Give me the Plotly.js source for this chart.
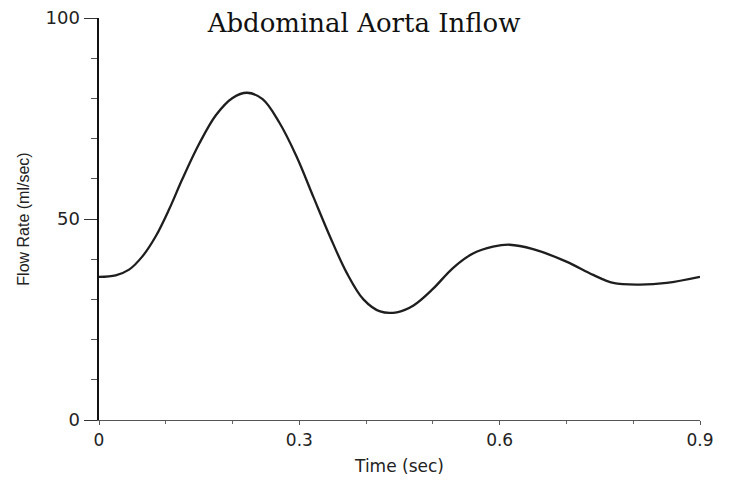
<!DOCTYPE html>
<html>
<head>
<meta charset="utf-8">
<script src="https://cdn.plot.ly/plotly-3.0.1.min.js"></script>
<style>html,body{margin:0;padding:0;background:#fff;}</style>
</head>
<body>
<div id="chart" style="width:737px;height:483px;"></div>
<script>
// Time (sec) and flow rate (ml/sec)
const time = [0, 0.025, 0.045, 0.065, 0.085, 0.105, 0.125, 0.15, 0.175, 0.2, 0.222, 0.245, 0.27, 0.296, 0.321, 0.346, 0.371, 0.396, 0.421, 0.446, 0.471, 0.5, 0.53, 0.56, 0.59, 0.615, 0.65, 0.7, 0.74, 0.77, 0.81, 0.85, 0.9];
const flow = [35.6, 36.0, 37.4, 40.7, 45.7, 52.4, 60.0, 68.7, 75.8, 80.1, 81.4, 79.8, 74.0, 65.5, 55.5, 45.6, 36.6, 30.0, 27.0, 26.8, 28.5, 32.6, 37.8, 41.4, 43.1, 43.6, 42.5, 39.4, 36.1, 34.1, 33.7, 34.1, 35.6];
const xTickVals = [0, 0.3, 0.6, 0.9];
const xTickText = ['0', '0.3', '0.6', '0.9'];
const yTickVals = [0, 50, 100];
const yTickText = ['0', '50', '100'];

const trace = {
  x: time, y: flow, type: 'scatter', mode: 'lines',
  line: {color: '#1e1e1e', width: 2.3, shape: 'spline', smoothing: 1},
  hoverinfo: 'skip'
};

const layout = {
  width: 737, height: 483,
  margin: {l: 99, r: 37, t: 18, b: 63},
  paper_bgcolor: '#fff', plot_bgcolor: '#fff',
  showlegend: false,
  title: {
    text: 'Abdominal Aorta Inflow',
    font: {family: 'DejaVu Serif', size: 26, color: '#111'},
    xref: 'container', x: 0.494, xanchor: 'center',
    yref: 'container', y: 0.952, yanchor: 'middle'
  },
  xaxis: {
    range: [0, 0.9], tickvals: xTickVals, ticktext: xTickText,
    showgrid: false, zeroline: false,
    showline: true, linecolor: '#555', linewidth: 1.2,
    ticks: 'outside', ticklen: 4, tickcolor: '#555', tickwidth: 1,
    minor: {dtick: 0.1, tick0: 0, ticks: 'outside', ticklen: 3, tickcolor: '#666'},
    tickfont: {family: 'DejaVu Sans', size: 17, color: '#222'},
    title: {text: 'Time (sec)', font: {family: 'DejaVu Sans', size: 17, color: '#222'}, standoff: 11}
  },
  yaxis: {
    range: [0, 100], tickvals: yTickVals, ticktext: yTickText,
    showgrid: false, zeroline: false,
    showline: true, linecolor: '#111', linewidth: 2.5,
    ticks: 'outside', ticklen: 13, tickcolor: '#333', tickwidth: 1,
    minor: {dtick: 10, tick0: 0, ticks: 'outside', ticklen: 6, tickcolor: '#555'},
    tickfont: {family: 'DejaVu Sans', size: 18, color: '#222'},
    title: {text: 'Flow Rate (ml/sec)', font: {family: 'Liberation Sans', size: 16, color: '#222'}, standoff: 12}
  }
};

Plotly.newPlot('chart', [trace], layout, {displayModeBar: false, staticPlot: true});
</script>
</body>
</html>
